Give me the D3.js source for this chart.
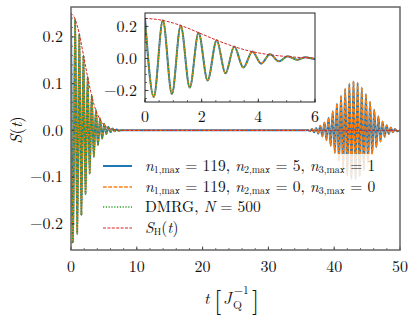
<!DOCTYPE html>
<html lang="en">
<head>
<meta charset="utf-8">
<title>S(t)</title>
<script src="https://cdn.jsdelivr.net/npm/d3@7"></script>
<style>
body { margin: 0; background: #fff; }
</style>
</head>
<body>
<script>
// extrema of the oscillation (decay near t = 0)
var tDecay = [0, 0.31, 0.63, 0.95, 1.26, 1.58, 1.89, 2.21, 2.53, 2.84, 3.15, 3.47, 3.79, 4.10,
              4.41, 4.73, 5.04, 5.36, 5.67, 5.99, 6.30, 6.62, 6.93, 7.25, 7.56, 8.0, 35.7];
var sDecay = [0.250, -0.240, 0.238, -0.222, 0.206, -0.182, 0.160, -0.137, 0.114, -0.093, 0.074,
              -0.057, 0.043, -0.032, 0.026, -0.018, 0.014, -0.008, 0.008, -0.004, 0.004, -0.002,
              0.002, -0.001, 0, 0, 0];
// revival around t = 43
var tRevival = [36.0, 36.32, 36.63, 36.95, 37.26, 37.58, 37.89, 38.21, 38.52, 38.84, 39.15, 39.47,
                39.78, 40.10, 40.41, 40.73, 41.04, 41.36, 41.67, 41.99, 42.30, 42.62, 42.93, 43.25,
                43.56, 43.88, 44.19, 44.51, 44.82, 45.14, 45.45, 45.77, 46.08, 46.40, 46.71, 47.03,
                47.34, 47.66, 47.97, 48.29, 48.60, 48.92, 49.23, 49.55, 50.0];
var sRevival = [0.001, -0.002, 0.003, -0.004, 0.005, -0.007, 0.010, -0.013, 0.017, -0.021, 0.027,
                -0.033, 0.041, -0.048, 0.057, -0.065, 0.074, -0.082, 0.089, -0.096, 0.100, -0.104,
                0.105, -0.104, 0.102, -0.098, 0.092, -0.085, 0.078, -0.069, 0.061, -0.052, 0.044,
                -0.036, 0.030, -0.024, 0.019, -0.014, 0.011, -0.008, 0.006, -0.004, 0.003, -0.002, 0];
// S_H(t) envelope
var tEnv = [0, 0.5, 1, 1.5, 2, 2.5, 3, 3.5, 4, 4.5, 5, 5.5, 6, 7, 8, 50];
var sEnv = [0.250, 0.242, 0.221, 0.190, 0.153, 0.116, 0.083, 0.055, 0.035, 0.021, 0.012, 0.006,
            0.003, 0.001, 0, 0];
var dmrgEnd = 35;

var xTicks = [0, 10, 20, 30, 40, 50];
var yTicks = [-0.2, -0.1, 0, 0.1, 0.2];
var insetXTicks = [0, 2, 4, 6];
var insetYTicks = [-0.2, 0, 0.2];

var FONT = "'Latin Modern Roman', 'Liberation Serif', serif";
var w = 415, h = 318;
var svg = d3.select("body").append("svg").attr("width", w).attr("height", h);

function label(parent) {
  return parent.append("text").style("font-family", FONT).attr("fill", "#111");
}

var x = d3.scaleLinear().domain([0, 50]).range([71, 400]);
var y = d3.scaleLinear().domain([-0.256, 0.264]).range([250, 7]);
var xi = d3.scaleLinear().domain([0, 6]).range([145, 315]);
var yi = d3.scaleLinear().domain([-0.272, 0.284]).range([102, 13]);

var full = tDecay.map(function(t, i) { return {t: t, s: sDecay[i]}; })
  .concat(tRevival.map(function(t, i) { return {t: t, s: sRevival[i]}; }));
var dmrg = full.filter(function(d) { return d.t <= dmrgEnd; });
var env = tEnv.map(function(t, i) { return {t: t, s: sEnv[i]}; });

var styles = [
  {data: full, color: "#1f77b4", width: 2, dash: null},
  {data: full, color: "#ff7f0e", width: 1.4, dash: "3.7,1.6"},
  {data: dmrg, color: "#2ca02c", width: 1.4, dash: "1.2,1.6"},
  {data: env, color: "#d62728", width: 1, dash: "3,1.4"}
];

var fmt = d3.format(".1f");

function panel(xs, ys, id, xt, yt, xMinor, yMinor, labelGap, frameColor, frameWidth) {
  var x0 = xs.range()[0], x1 = xs.range()[1], y0 = ys.range()[1], y1 = ys.range()[0];
  var g = svg.append("g");
  g.append("rect").attr("x", x0).attr("y", y0).attr("width", x1 - x0).attr("height", y1 - y0)
    .attr("fill", "#fff");
  svg.append("clipPath").attr("id", id).append("rect")
    .attr("x", x0).attr("y", y0).attr("width", x1 - x0).attr("height", y1 - y0);

  var plot = g.append("g").attr("clip-path", "url(#" + id + ")");
  styles.forEach(function(st) {
    var line = d3.line().x(function(d) { return xs(d.t); }).y(function(d) { return ys(d.s); })
      .curve(d3.curveMonotoneX);
    plot.append("path").datum(st.data).attr("d", line)
      .attr("fill", "none").attr("stroke", st.color).attr("stroke-width", st.width)
      .attr("stroke-dasharray", st.dash);
  });

  // ticks, inside, bottom and left only
  xMinor.forEach(function(v) {
    g.append("line").attr("x1", xs(v)).attr("x2", xs(v)).attr("y1", y1).attr("y2", y1 - 2)
      .attr("stroke", "#333").attr("stroke-width", 0.7);
  });
  yMinor.forEach(function(v) {
    g.append("line").attr("x1", x0).attr("x2", x0 + 2).attr("y1", ys(v)).attr("y2", ys(v))
      .attr("stroke", "#333").attr("stroke-width", 0.7);
  });
  xt.forEach(function(v) {
    g.append("line").attr("x1", xs(v)).attr("x2", xs(v)).attr("y1", y1).attr("y2", y1 - 3.5)
      .attr("stroke", "#333").attr("stroke-width", 0.9);
    label(g).attr("x", xs(v)).attr("y", y1 + labelGap).attr("text-anchor", "middle")
      .attr("font-size", 16).text(v);
  });
  yt.forEach(function(v) {
    g.append("line").attr("x1", x0).attr("x2", x0 + 3.5).attr("y1", ys(v)).attr("y2", ys(v))
      .attr("stroke", "#333").attr("stroke-width", 0.9);
    label(g).attr("x", x0 - 8).attr("y", ys(v) + 5.2).attr("text-anchor", "end")
      .attr("font-size", 16).text(fmt(v));
  });

  g.append("rect").attr("x", x0).attr("y", y0).attr("width", x1 - x0).attr("height", y1 - y0)
    .attr("fill", "none").attr("stroke", frameColor).attr("stroke-width", frameWidth);
  return g;
}

panel(x, y, "clipMain", xTicks, yTicks, d3.range(0, 50.1, 2), d3.range(-0.24, 0.25, 0.02),
      22, "#666", 1.5);
panel(xi, yi, "clipInset", insetXTicks, insetYTicks, d3.range(0, 6.01, 0.5),
      d3.range(-0.25, 0.26, 0.05), 19.5, "#222", 1);

function math(sel, segs) {
  segs.forEach(function(s) {
    var ts = sel.append("tspan").style("font-family", FONT).text(s.t);
    if (s.i) ts.style("font-style", "italic");
    if (s.fs) ts.attr("font-size", s.fs);
    if (s.dx) ts.attr("dx", s.dx);
    if (s.dy) ts.attr("dy", s.dy);
  });
}

// legend, on a translucent white box without edge
svg.append("rect").attr("x", 97).attr("y", 154).attr("width", 301).attr("height", 86)
  .attr("fill", "#fff").attr("fill-opacity", 0.8);
var legendLabels = [
  [{t: "n", i: 1}, {t: "1,max", fs: 10, dy: 2}, {t: " = 119, ", dy: -2}, {t: "n", i: 1},
   {t: "2,max", fs: 10, dy: 2}, {t: " = 5, ", dy: -2}, {t: "n", i: 1},
   {t: "3,max", fs: 10, dy: 2}, {t: " = 1", dy: -2}],
  [{t: "n", i: 1}, {t: "1,max", fs: 10, dy: 2}, {t: " = 119, ", dy: -2}, {t: "n", i: 1},
   {t: "2,max", fs: 10, dy: 2}, {t: " = 0, ", dy: -2}, {t: "n", i: 1},
   {t: "3,max", fs: 10, dy: 2}, {t: " = 0", dy: -2}],
  [{t: "DMRG, "}, {t: "N", i: 1}, {t: " = 500"}],
  [{t: "S", i: 1}, {t: "H", fs: 10, dy: 2}, {t: "(", dy: -2}, {t: "t", i: 1}, {t: ")"}]
];
var legendY = [166, 187, 207, 228];
legendLabels.forEach(function(segs, i) {
  var st = styles[i];
  svg.append("line").attr("x1", 103).attr("x2", 132).attr("y1", legendY[i]).attr("y2", legendY[i])
    .attr("stroke", st.color).attr("stroke-width", st.width).attr("stroke-dasharray", st.dash);
  var t = label(svg).attr("x", 145).attr("y", legendY[i] + 5).attr("font-size", 15.5);
  math(t, segs);
});

// axis labels
var yl = label(svg).attr("transform", "translate(22,130) rotate(-90)")
  .attr("text-anchor", "middle").attr("font-size", 16.5);
math(yl, [{t: "S", i: 1}, {t: "("}, {t: "t", i: 1}, {t: ")"}]);

var xBase = 304;
label(svg).attr("x", 204).attr("y", xBase).attr("font-size", 16.5).style("font-style", "italic").text("t");
label(svg).attr("x", 214).attr("y", xBase + 5).attr("font-size", 26).text("[");
label(svg).attr("x", 223).attr("y", xBase).attr("font-size", 16.5).style("font-style", "italic").text("J");
label(svg).attr("x", 233).attr("y", xBase + 5).attr("font-size", 11.5).text("Q");
label(svg).attr("x", 234).attr("y", xBase - 10).attr("font-size", 11.5).text("\u22121");
label(svg).attr("x", 252).attr("y", xBase + 5).attr("font-size", 26).text("]");
</script>
</body>
</html>
